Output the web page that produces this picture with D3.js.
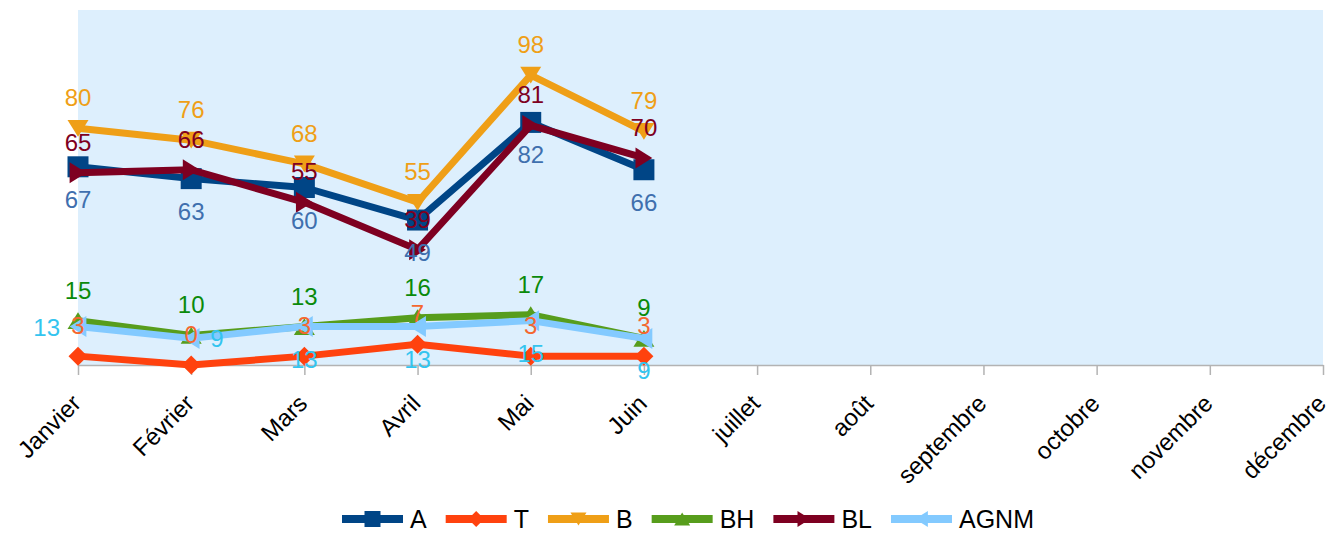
<!DOCTYPE html>
<html>
<head>
<meta charset="utf-8">
<script src="https://cdn.jsdelivr.net/npm/d3@7"></script>
<style>
  body { margin: 0; background: #fff; }
  text { font-family: "Liberation Sans", Arial, sans-serif; }
</style>
</head>
<body>
<div id="chart"></div>
<script>
// categories (x axis)
const months = ["Janvier", "Février", "Mars", "Avril", "Mai", "Juin",
  "juillet", "août", "septembre", "octobre", "novembre", "décembre"];

// series values (Janvier..Juin)
const valuesA = [67, 63, 60, 49, 82, 66];
const valuesT = [3, 0, 3, 7, 3, 3];
const valuesB = [80, 76, 68, 55, 98, 79];
const valuesBH = [15, 10, 13, 16, 17, 9];
const valuesBL = [65, 66, 55, 39, 81, 70];
const valuesAGNM = [13, 9, 13, 13, 15, 9];

const seriesNames = ["A", "T", "B", "BH", "BL", "AGNM"];
const seriesValues = [valuesA, valuesT, valuesB, valuesBH, valuesBL, valuesAGNM];
const lineColors = ["#004586", "#ff420e", "#ef9f17", "#579d1c", "#7e0021", "#83caff"];
const labelColors = ["#3f6fae", "#f4672f", "#ef9f17", "#0a8a0a", "#7e0021", "#33c4ef"];
const markers = ["square", "diamond", "down", "up", "right", "left"];
// where each value label sits relative to its point
const labelPlace = [
  ["below", "below", "below", "below", "below", "below"],
  ["above", "above", "above", "above", "above", "above"],
  ["above", "above", "above", "above", "above", "above"],
  ["above", "above", "above", "above", "above", "above"],
  ["above", "above", "above", "above", "above", "above"],
  ["left", "right", "below", "below", "below", "below"]
];

const width = 1326, height = 536;
const plot = {left: 78, right: 1323, top: 10, bottom: 365};

const svg = d3.select("#chart").append("svg")
    .attr("width", width)
    .attr("height", height);

const x = d3.scalePoint()
    .domain(months)
    .range([plot.left, plot.right]);

const y = d3.scaleLinear()
    .domain([0, 120])
    .range([plot.bottom, plot.top]);

// plot background
svg.append("rect")
    .attr("x", plot.left)
    .attr("y", plot.top)
    .attr("width", plot.right - plot.left)
    .attr("height", plot.bottom - plot.top)
    .attr("fill", "#ddeffd");

// x axis
const xAxis = svg.append("g")
    .attr("transform", `translate(0,${plot.bottom})`)
    .call(d3.axisBottom(x).tickSize(10).tickSizeOuter(0));

xAxis.select(".domain").attr("stroke", "#b3b3b3").attr("stroke-width", 1.5);
xAxis.selectAll(".tick line").attr("stroke", "#b3b3b3").attr("stroke-width", 1.5);
xAxis.selectAll(".tick text")
    .attr("x", 0)
    .attr("y", 0)
    .attr("dy", "0.35em")
    .attr("text-anchor", "end")
    .attr("transform", "translate(-2,34) rotate(-45)")
    .attr("font-size", 24)
    .attr("font-family", "Liberation Sans, Arial, sans-serif")
    .attr("fill", "#000");

function markerPath(type, s) {
  const h = s / 2;
  switch (type) {
    case "square": return `M${-h},${-h}H${h}V${h}H${-h}Z`;
    case "diamond": return `M0,${-h}L${h},0L0,${h}L${-h},0Z`;
    case "down": return `M${-h},${-h * 0.8}L${h},${-h * 0.8}L0,${h * 0.8}Z`;
    case "up": return `M${-h},${h * 0.8}L${h},${h * 0.8}L0,${-h * 0.8}Z`;
    case "right": return `M${-h * 0.8},${-h}L${h * 0.8},0L${-h * 0.8},${h}Z`;
    case "left": return `M${h * 0.8},${-h}L${-h * 0.8},0L${h * 0.8},${h}Z`;
  }
}

const line = d3.line()
    .x((d, i) => x(months[i]))
    .y(d => y(d));

// lines and markers
seriesValues.forEach((vals, s) => {
  const g = svg.append("g");
  g.append("path")
      .attr("d", line(vals))
      .attr("fill", "none")
      .attr("stroke", lineColors[s])
      .attr("stroke-width", 7)
      .attr("stroke-linejoin", "round");
  g.selectAll("path.mk")
    .data(vals)
    .join("path")
      .attr("class", "mk")
      .attr("transform", (d, i) => `translate(${x(months[i])},${y(d)})`)
      .attr("d", markerPath(markers[s], s === 1 ? 19 : 21))
      .attr("fill", lineColors[s]);
});

// value labels
seriesValues.forEach((vals, s) => {
  svg.append("g")
    .selectAll("text")
    .data(vals)
    .join("text")
      .attr("font-size", 24)
      .attr("fill", labelColors[s])
      .each(function(d, i) {
        const px = x(months[i]), py = y(d);
        const place = labelPlace[s][i];
        const t = d3.select(this).text(d);
        if (place === "above") t.attr("x", px).attr("y", py - 22).attr("text-anchor", "middle");
        else if (place === "below") t.attr("x", px).attr("y", py + 41).attr("text-anchor", "middle");
        else if (place === "left") t.attr("x", px - 18).attr("y", py + 9).attr("text-anchor", "end");
        else t.attr("x", px + 19).attr("y", py + 9).attr("text-anchor", "start");
      });
});

// legend
const legend = svg.append("g").attr("transform", "translate(342,519)");
let lx = 0;
seriesNames.forEach((name, s) => {
  const item = legend.append("g").attr("transform", `translate(${lx},0)`);
  item.append("line")
      .attr("x1", 0).attr("x2", 61)
      .attr("stroke", lineColors[s])
      .attr("stroke-width", 8);
  item.append("path")
      .attr("transform", "translate(30.5,0)")
      .attr("d", markerPath(markers[s], 16))
      .attr("fill", lineColors[s]);
  const label = item.append("text")
      .attr("x", 68)
      .attr("dy", "0.36em")
      .attr("font-size", 25)
      .attr("fill", "#000")
      .text(name);
  lx += 68 + label.node().getComputedTextLength() + 19;
});
</script>
</body>
</html>
